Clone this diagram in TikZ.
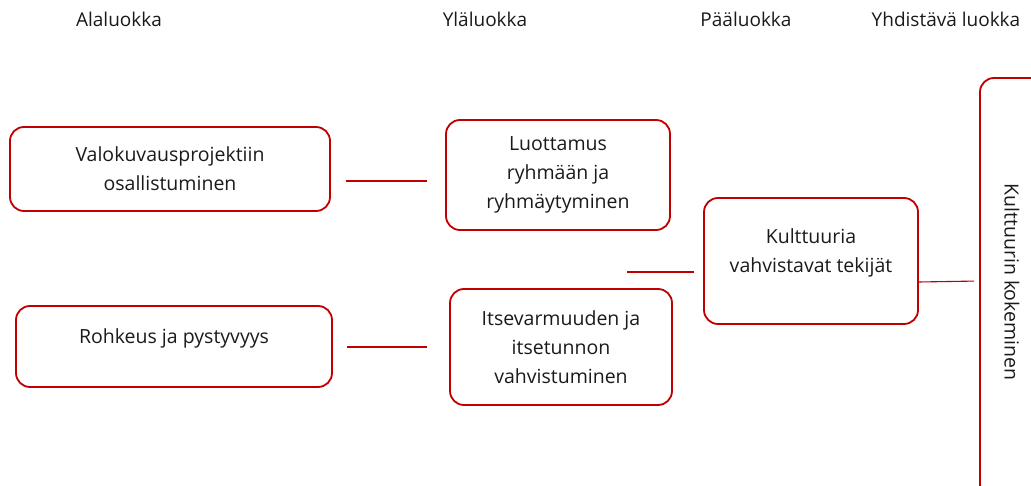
\documentclass[tikz,border=0pt]{standalone}
\usepackage{fontspec}
\setmainfont{Open Sans}
\usetikzlibrary{positioning}
\definecolor{punainen}{HTML}{C00000}
\definecolor{teksti}{HTML}{1A1A1A}

\begin{document}
\begin{tikzpicture}[
x=1pt,y=-1pt,
Luokka/.style={draw=punainen,line width=1.8pt,rounded corners=14pt,align=center,inner sep=0pt,font=\fontsize{19.5}{29}\selectfont,text=teksti},
Otsikko/.style={font=\fontsize{19}{22}\selectfont,text=teksti},
Yhteys/.style={draw=punainen,line width=1.1pt}
]
\useasboundingbox (0,0) rectangle (1031,486);
\clip (0,0) rectangle (1031,486);

% otsikot
\node[Otsikko] (ala) at (119,19) {Alaluokka};
\node[Otsikko] (yla) at (485,19) {Yläluokka};
\node[Otsikko] (paa) at (746,19) {Pääluokka};
\node[Otsikko] (yhd) at (946,19) {Yhdistävä luokka};

% alaluokat
\node[Luokka,minimum width=320pt,minimum height=84pt] (valo) at (170,169) {Valokuvausprojektiin\\osallistuminen};
\node[Luokka,minimum width=316pt,minimum height=81pt,text depth=20pt] (rohk) at (174,346.5) {Rohkeus ja pystyvyys};

% yläluokat
\node[Luokka,minimum width=224pt,minimum height=110pt] (luot) at (558,175) {Luottamus\\ryhmään ja\\ryhmäytyminen};
\node[Luokka,minimum width=222pt,minimum height=116pt] (itse) at (561,347) {Itsevarmuuden ja\\itsetunnon\\vahvistuminen};

% pääluokka
\node[Luokka,minimum width=214pt,minimum height=126pt,text depth=20pt] (kult) at (811,261) {Kulttuuria\\vahvistavat tekijät};

% yhdistävä luokka
\node[Luokka,minimum width=80pt,minimum height=452pt] (koke) at (1020,304) {};
\node[rotate=-90,font=\fontsize{19.5}{29}\selectfont,text=teksti] (kokt) at (1012,282) {Kulttuurin kokeminen};

\coordinate (vali) at (627,272);

\draw[Yhteys,shorten <=15pt,shorten >=18pt] (valo.east|-0,181) -- (luot.west|-0,181);
\draw[Yhteys,shorten <=14pt,shorten >=22pt] (rohk.east|-0,347) -- (itse.west|-0,347);
\draw[Yhteys,shorten >=9pt] (vali) -- (kult.west|-vali);
\draw[Yhteys,shorten >=5pt] (kult.east|-0,282) -- (koke.west|-0,281);

\end{tikzpicture}
\end{document}
